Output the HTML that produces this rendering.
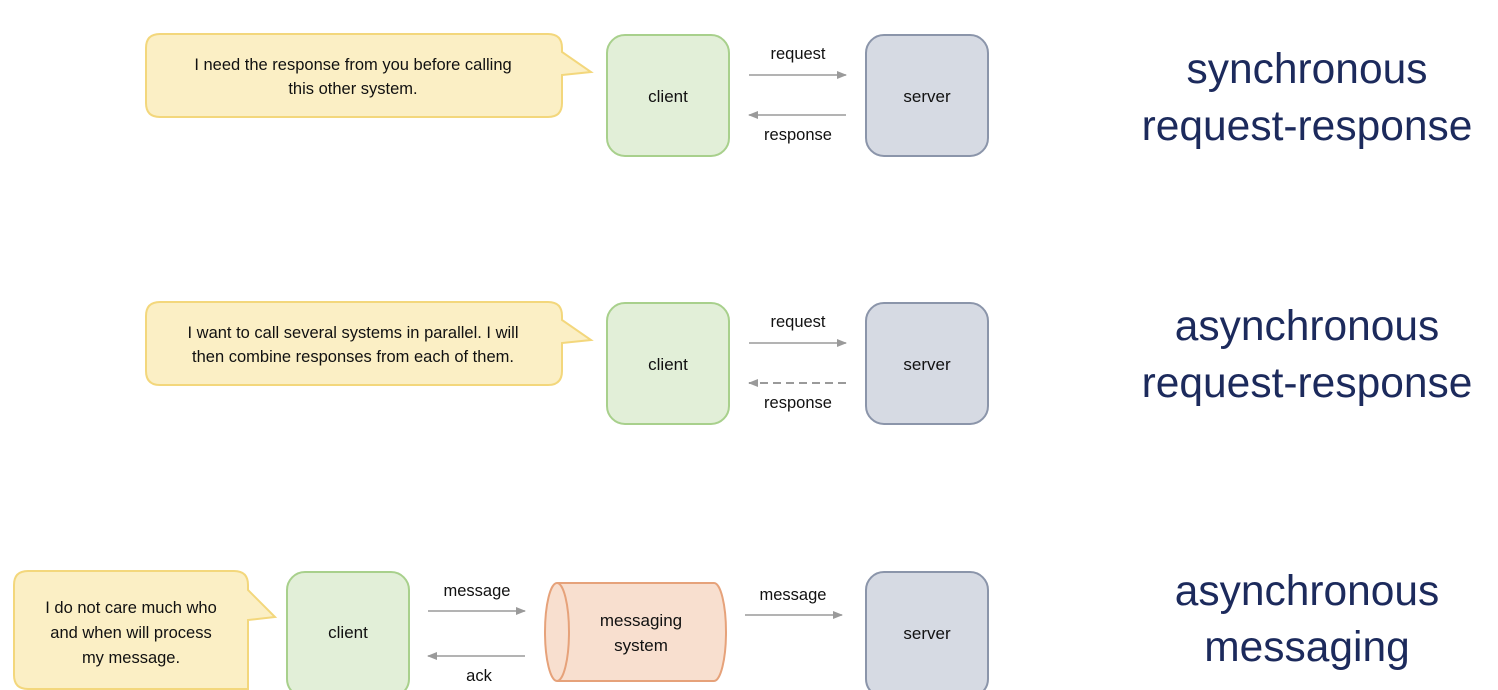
<!DOCTYPE html>
<html><head><meta charset="utf-8"><style>
html,body{margin:0;padding:0;background:#fff;}
svg{display:block;}
text{font-family:"Liberation Sans",sans-serif;}
</style></head><body>
<svg width="1498" height="690" viewBox="0 0 1498 690" xmlns="http://www.w3.org/2000/svg">
<defs>
<marker id="ah" markerWidth="10" markerHeight="8" refX="9" refY="4" orient="auto" markerUnits="userSpaceOnUse">
<path d="M0,0 L10,4 L0,8 z" fill="#9a9a9a"/></marker>
</defs>
<g fill="#fbefc5" stroke="#f3d77c" stroke-width="2">
<path d="M160,34 H548 Q562,34 562,48 V52 L591,72 L562,75 V103 Q562,117 548,117 H160 Q146,117 146,103 V48 Q146,34 160,34 Z"/>
<path d="M160,302 H548 Q562,302 562,316 V320 L591,340 L562,343 V371 Q562,385 548,385 H160 Q146,385 146,371 V316 Q146,302 160,302 Z"/>
<path d="M28,571 H234 Q248,571 248,585 V590 L275,617 L248,620 V689 H28 Q14,689 14,675 V585 Q14,571 28,571 Z"/>
</g>
<g font-size="16.5" fill="#111" text-anchor="middle">
<text x="353" y="70">I need the response from you before calling</text>
<text x="353" y="94">this other system.</text>
<text x="353" y="338">I want to call several systems in parallel. I will</text>
<text x="353" y="362">then combine responses from each of them.</text>
<text x="131" y="613">I do not care much who</text>
<text x="131" y="638">and when will process</text>
<text x="131" y="663">my message.</text>
</g>
<g fill="#e2efd8" stroke="#a8d08c" stroke-width="2">
<rect x="607" y="35" width="122" height="121" rx="18"/>
<rect x="607" y="303" width="122" height="121" rx="18"/>
<rect x="287" y="572" width="122" height="125" rx="18"/>
</g>
<g fill="#d6dae3" stroke="#8b95aa" stroke-width="2">
<rect x="866" y="35" width="122" height="121" rx="18"/>
<rect x="866" y="303" width="122" height="121" rx="18"/>
<rect x="866" y="572" width="122" height="125" rx="18"/>
</g>
<g fill="#f8dfcf" stroke="#e6a27a" stroke-width="2">
<path d="M557,583 H714 A12,49 0 0 1 714,681 H557 A12,49 0 0 1 557,583 Z"/>
<path d="M557,583 A12,49 0 0 1 557,681" fill="none"/>
</g>
<g font-size="17" fill="#111" text-anchor="middle">
<text x="668" y="102">client</text>
<text x="927" y="102">server</text>
<text x="668" y="370">client</text>
<text x="927" y="370">server</text>
<text x="348" y="638">client</text>
<text x="927" y="639">server</text>
<text x="641" y="626">messaging</text>
<text x="641" y="651">system</text>
</g>
<g stroke="#9a9a9a" stroke-width="1.5" fill="none" marker-end="url(#ah)">
<line x1="749" y1="75" x2="846" y2="75"/>
<line x1="846" y1="115" x2="749" y2="115"/>
<line x1="749" y1="343" x2="846" y2="343"/>
<line x1="846" y1="383" x2="749" y2="383" stroke-dasharray="8,5" stroke-width="2"/>
<line x1="428" y1="611" x2="525" y2="611"/>
<line x1="525" y1="656" x2="428" y2="656"/>
<line x1="745" y1="615" x2="842" y2="615"/>
</g>
<g font-size="16.5" fill="#111" text-anchor="middle">
<text x="798" y="59">request</text>
<text x="798" y="140">response</text>
<text x="798" y="327">request</text>
<text x="798" y="408">response</text>
<text x="477" y="596">message</text>
<text x="479" y="681">ack</text>
<text x="793" y="600">message</text>
</g>
<g font-size="42.5" fill="#1c2a5c" text-anchor="middle">
<text x="1307" y="83">synchronous</text>
<text x="1307" y="140">request-response</text>
<text x="1307" y="340">asynchronous</text>
<text x="1307" y="397">request-response</text>
<text x="1307" y="605">asynchronous</text>
<text x="1307" y="661">messaging</text>
</g>
</svg>
</body></html>
